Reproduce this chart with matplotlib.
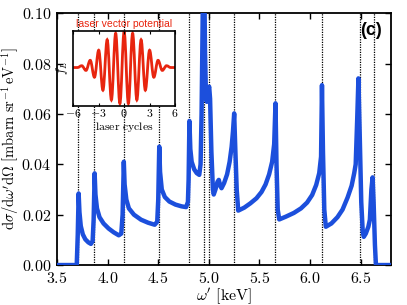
import matplotlib
matplotlib.use('Agg')
import matplotlib.pyplot as plt
from matplotlib.path import Path
from matplotlib.patches import PathPatch
from matplotlib.ticker import FuncFormatter, MultipleLocator

plt.rcParams['mathtext.fontset'] = 'cm'
plt.rcParams['font.family'] = ['Liberation Sans', 'DejaVu Sans']

# spectrum (keV, mbarn sr^-1 eV^-1)
omega = [3.50, 3.695, 3.705, 3.714, 3.722, 3.735, 3.755, 3.78, 3.81, 3.835, 3.852, 3.862, 3.872,
         3.880, 3.895, 3.92, 3.96, 4.01, 4.06, 4.11, 4.135, 4.148, 4.160,
         4.168, 4.185, 4.21, 4.26, 4.33, 4.40, 4.465, 4.49, 4.50, 4.510,
         4.518, 4.535, 4.565, 4.61, 4.67, 4.73, 4.775, 4.793, 4.800, 4.808,
         4.817, 4.83, 4.855, 4.88, 4.905, 4.918, 4.928, 4.938, 4.948, 4.962, 4.972,
         4.980, 4.990, 5.003, 5.012, 5.025, 5.040, 5.048, 5.065, 5.085, 5.098, 5.112, 5.125,
         5.15, 5.18, 5.205, 5.225, 5.238, 5.250,
         5.262, 5.275, 5.290, 5.35, 5.41, 5.47, 5.52, 5.56, 5.595, 5.625, 5.645, 5.658,
         5.668, 5.680, 5.695, 5.76, 5.84, 5.91, 5.97, 6.02, 6.06, 6.09, 6.108, 6.117,
         6.127, 6.140, 6.155, 6.21, 6.27, 6.32, 6.37, 6.41, 6.435, 6.450, 6.465, 6.477,
         6.488, 6.505, 6.520, 6.530, 6.550, 6.575, 6.590, 6.605, 6.617,
         6.627, 6.640, 6.650, 6.80]
dsigma = [0.0, 0.0, 0.012, 0.0284, 0.021, 0.0155, 0.0122, 0.0102, 0.0090, 0.0084, 0.0095, 0.018, 0.0364,
          0.028, 0.0225, 0.019, 0.0165, 0.0145, 0.0130, 0.0118, 0.0125, 0.020, 0.0410,
          0.032, 0.026, 0.0225, 0.0200, 0.0180, 0.0168, 0.0160, 0.0172, 0.026, 0.0470,
          0.037, 0.030, 0.0270, 0.0252, 0.0240, 0.0233, 0.0230, 0.0250, 0.034, 0.0572,
          0.046, 0.041, 0.0380, 0.0365, 0.0358, 0.040, 0.060, 0.095, 0.140, 0.085, 0.066,
          0.0648, 0.069, 0.0708, 0.066, 0.045, 0.030, 0.0280, 0.030, 0.0330, 0.0338, 0.0315, 0.0305,
          0.0325, 0.036, 0.041, 0.047, 0.053, 0.0602,
          0.045, 0.030, 0.0216, 0.0228, 0.0245, 0.0265, 0.0290, 0.0320, 0.0360, 0.0410, 0.048, 0.0642,
          0.040, 0.022, 0.0181, 0.0192, 0.0207, 0.0225, 0.0248, 0.0278, 0.0318, 0.0365, 0.043, 0.0714,
          0.045, 0.022, 0.0152, 0.0165, 0.0190, 0.0220, 0.0268, 0.0315, 0.0364, 0.040, 0.058, 0.0741,
          0.055, 0.025, 0.013, 0.0112, 0.0125, 0.0152, 0.018, 0.030, 0.0348,
          0.025, 0.008, 0.0, 0.0]

# thresholds marked by dotted lines
edges = [3.712, 3.870, 4.162, 4.510, 4.808, 4.953, 5.003, 5.250, 5.658, 6.117, 6.490, 6.628]

# inset: extrema of the laser vector potential
cycles = [-6.0, -5.5, -5.0, -4.5, -4.0, -3.5, -3.0, -2.5, -2.0, -1.5, -1.0, -0.5, 0.0,
          0.5, 1.0, 1.5, 2.0, 2.5, 3.0, 3.5, 4.0, 4.5, 5.0, 5.5, 6.0]
f_L = [0.0, 0.0, 0.05, -0.08, 0.20, -0.27, 0.48, -0.63, 0.77, -0.90, 0.95, -1.0, 1.0,
       -1.0, 0.95, -0.90, 0.77, -0.63, 0.48, -0.27, 0.20, -0.08, 0.05, 0.0, 0.0]

blue = '#1c4fdc'
red = '#e8250f'

fig = plt.figure(figsize=(4.07, 3.05), dpi=100)
ax = fig.add_axes([0.140, 0.131, 0.821, 0.826])

for e in edges:
    ax.axvline(e, color='black', ls=(0, (1, 1)), lw=0.9, zorder=1)
ax.plot(omega, dsigma, color=blue, lw=3.2, zorder=3, solid_joinstyle='round')

ax.set_xlim(3.5, 6.8)
ax.set_ylim(0.0, 0.10)
ax.xaxis.set_major_locator(MultipleLocator(0.5))
ax.yaxis.set_major_locator(MultipleLocator(0.02))
ax.xaxis.set_major_formatter(FuncFormatter(lambda v, p: f'${v:.1f}$'))
ax.yaxis.set_major_formatter(FuncFormatter(lambda v, p: f'${v:.2f}$'))
ax.tick_params(direction='in', top=True, right=True, length=4, width=1.0,
               labelsize=11.5, pad=4)
for s in ax.spines.values():
    s.set_linewidth(1.3)
ax.set_xlabel(r"$\omega^\prime\ [\mathrm{keV}]$", fontsize=11.5)
ax.xaxis.set_label_coords(0.5, -0.082)
ax.set_ylabel(r"$\mathrm{d}\sigma/\mathrm{d}\omega^\prime\mathrm{d}\Omega\ [\mathrm{mbarn\ sr}^{-1}\,\mathrm{eV}^{-1}]$",
              fontsize=10.5)
ax.yaxis.set_label_coords(-0.108, 0.5)
ax.text(0.973, 0.93, '(c)', transform=ax.transAxes, ha='right', va='center',
        fontsize=13, fontweight='bold')

# inset with the pulse shape
ins = fig.add_axes([0.180, 0.6534, 0.250, 0.2457])
verts = [(cycles[0], f_L[0])]
codes = [Path.MOVETO]
c = 1 - 2 / 3.14159265
for i in range(1, len(cycles)):
    t0, a0, t1, a1 = cycles[i - 1], f_L[i - 1], cycles[i], f_L[i]
    dt = t1 - t0
    verts += [(t0 + c * dt, a0), (t1 - c * dt, a1), (t1, a1)]
    codes += [Path.CURVE4] * 3
ins.add_patch(PathPatch(Path(verts, codes), facecolor='none', edgecolor=red, lw=2.0))
ins.set_xlim(-6, 6)
ins.set_ylim(-1.06, 1.02)
ins.set_xticks([-6, -3, 0, 3, 6])
ins.xaxis.set_major_formatter(FuncFormatter(lambda v, p: f'${v:.0f}$'))
ins.set_yticks([])
ins.tick_params(direction='in', top=True, length=2.5, width=0.8, labelsize=8.5, pad=2)
for s in ins.spines.values():
    s.set_linewidth(1.2)
ins.set_xlabel(r'$\mathrm{laser\ cycles}$', fontsize=8.5, labelpad=0)
ins.set_ylabel(r'$f_L$', fontsize=9, labelpad=2)
ins.set_title('laser vector potential', color=red, fontsize=7.5, pad=3)

fig.savefig('out.png', dpi=100)
